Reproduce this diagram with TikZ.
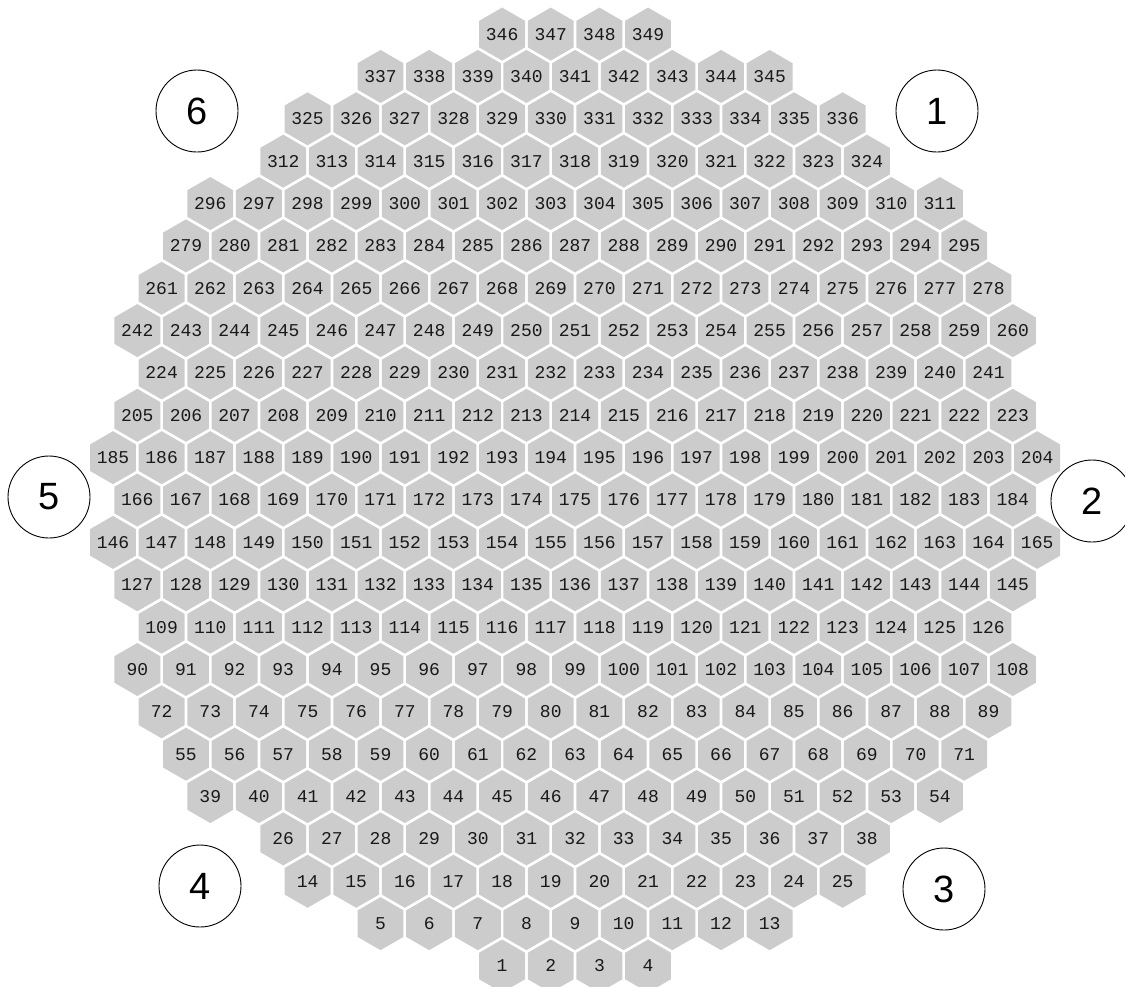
\documentclass[tikz,border=0pt]{standalone}
\usepackage{fontspec}
\setmainfont{Liberation Sans}
\newfontfamily\cellfont{Liberation Mono}
\usetikzlibrary{shapes.geometric}
\begin{document}
\begin{tikzpicture}[x=1pt,y=-1pt,
  hexcell/.style={regular polygon, regular polygon sides=6, regular polygon rotate=30,
    fill=gray!40, draw=none, minimum size=53pt, inner sep=0pt,
    text height=11.9pt, text depth=0pt,
    font=\cellfont\fontsize{18}{18}\selectfont, text=black!90},
  numcircle/.style={circle, draw=black, line width=0.9pt, fill=white, minimum size=82pt,
    inner sep=0pt, font=\fontsize{38}{38}\selectfont}]
\useasboundingbox (0,0) rectangle (1125,986);
\clip (0,0) rectangle (1125,986);
\foreach \r/\o/\s/\c in {0/16/1/4, 1/11/5/9, 2/8/14/12, 3/7/26/13, 4/4/39/16,
  5/3/55/17, 6/2/72/18, 7/1/90/19, 8/2/109/18, 9/1/127/19, 10/0/146/20,
  11/1/166/19, 12/0/185/20, 13/1/205/19, 14/2/224/18, 15/1/242/19,
  16/2/261/18, 17/3/279/17, 18/4/296/16, 19/7/312/13, 20/8/325/12,
  21/11/337/9, 22/16/346/4} {
  \foreach \i in {1,...,\c} {
    \pgfmathtruncatemacro\n{\s+\i-1}
    \node[hexcell] (h\n) at ({113+(\o+2*(\i-1))*24.32}, {966-\r*42.36}) {\n};
  }
}
\node[numcircle] (c1) at (937,111) {1};
\node[numcircle] (c2) at (1092,501) {2};
\node[numcircle] (c3) at (944,889) {3};
\node[numcircle] (c4) at (200,886) {4};
\node[numcircle] (c5) at (49,497) {5};
\node[numcircle] (c6) at (197,111) {6};
\end{tikzpicture}
\end{document}
